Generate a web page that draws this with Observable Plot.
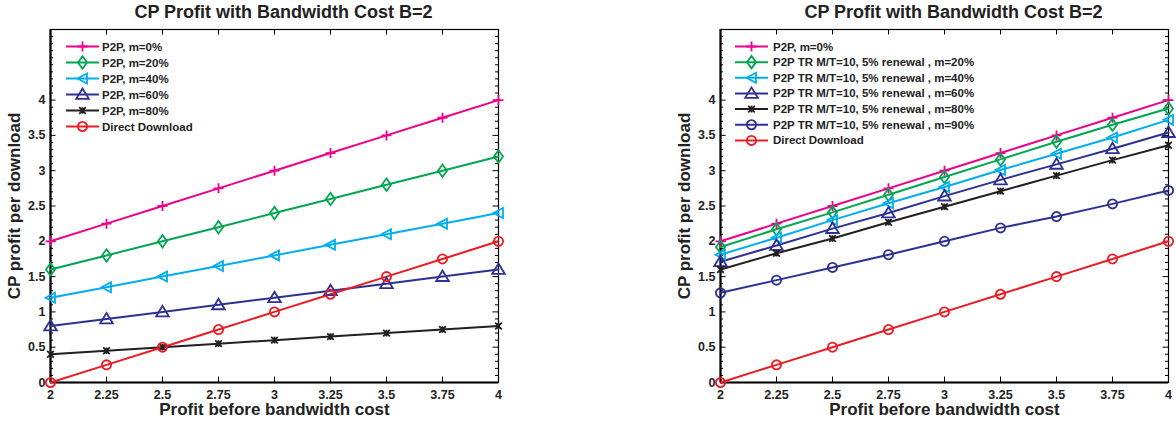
<!DOCTYPE html>
<html><head><meta charset="utf-8">
<script src="https://cdn.jsdelivr.net/npm/d3@7"></script>
<script src="https://cdn.jsdelivr.net/npm/@observablehq/plot@0.6"></script>
<style>
html,body{margin:0;padding:0;background:#fff;}
#wrap{position:relative;width:1176px;height:427px;overflow:hidden;background:#fff;}
#wrap svg{position:absolute;top:0;}
</style></head><body><div id="wrap"></div>
<script>
// ---- data ----
const xs = [2, 2.25, 2.5, 2.75, 3, 3.25, 3.5, 3.75, 4];
const xTicks = [2, 2.25, 2.5, 2.75, 3, 3.25, 3.5, 3.75, 4];
const yTicks = [0, 0.5, 1, 1.5, 2, 2.5, 3, 3.5, 4];
const titleText = "CP Profit with Bandwidth Cost B=2";
const xLabelText = "Profit before bandwidth cost";
const yLabelText = "CP profit per download";

const p2p0   = [2, 2.25, 2.5, 2.75, 3, 3.25, 3.5, 3.75, 4];
const p2p20  = [1.6, 1.8, 2.0, 2.2, 2.4, 2.6, 2.8, 3.0, 3.2];
const p2p40  = [1.2, 1.35, 1.5, 1.65, 1.8, 1.95, 2.1, 2.25, 2.4];
const p2p60  = [0.8, 0.9, 1.0, 1.1, 1.2, 1.3, 1.4, 1.5, 1.6];
const p2p80  = [0.4, 0.45, 0.5, 0.55, 0.6, 0.65, 0.7, 0.75, 0.8];
const direct = [0, 0.25, 0.5, 0.75, 1, 1.25, 1.5, 1.75, 2];
const tr20 = [1.92, 2.17, 2.41, 2.66, 2.91, 3.16, 3.41, 3.65, 3.88];
const tr40 = [1.81, 2.05, 2.30, 2.54, 2.77, 3.01, 3.24, 3.47, 3.72];
const tr60 = [1.71, 1.94, 2.18, 2.40, 2.64, 2.87, 3.09, 3.31, 3.54];
const tr80 = [1.60, 1.83, 2.04, 2.27, 2.49, 2.71, 2.93, 3.15, 3.36];
const tr90 = [1.27, 1.45, 1.63, 1.81, 2.00, 2.19, 2.35, 2.53, 2.72];

const leftLabels = ["P2P, m=0%", "P2P, m=20%", "P2P, m=40%", "P2P, m=60%", "P2P, m=80%", "Direct Download"];
const rightLabels = ["P2P, m=0%", "P2P TR M/T=10, 5% renewal , m=20%", "P2P TR M/T=10, 5% renewal , m=40%",
  "P2P TR M/T=10, 5% renewal , m=60%", "P2P TR M/T=10, 5% renewal , m=80%", "P2P TR M/T=10, 5% renewal , m=90%", "Direct Download"];

// ---- styles ----
const C = {mag: "#ec008c", green: "#00a651", cyan: "#00aeef", navy: "#2e3192", black: "#231f20", red: "#ed1c24"};
const rOf = s => Math.sqrt(s / Math.PI);
const SYM = {
  plus: {draw(c, s) {const r = rOf(s); c.moveTo(-r, 0); c.lineTo(r, 0); c.moveTo(0, -r); c.lineTo(0, r);}},
  diamond: {draw(c, s) {const r = rOf(s); c.moveTo(0, -r * 1.25); c.lineTo(r * 0.9, 0); c.lineTo(0, r * 1.25); c.lineTo(-r * 0.9, 0); c.closePath();}},
  left: {draw(c, s) {const r = rOf(s); c.moveTo(-r, 0); c.lineTo(r * 0.9, -r); c.lineTo(r * 0.9, r); c.closePath();}},
  up: {draw(c, s) {const r = rOf(s); c.moveTo(0, -r * 1.1); c.lineTo(r * 1.15, r * 0.8); c.lineTo(-r * 1.15, r * 0.8); c.closePath();}},
  star: {draw(c, s) {const r = rOf(s); c.moveTo(-r, -r); c.lineTo(r, r); c.moveTo(-r, r); c.lineTo(r, -r); c.moveTo(0, -r); c.lineTo(0, r);}},
  circle: {draw(c, s) {const r = rOf(s); c.moveTo(r, 0); c.arc(0, 0, r, 0, 2 * Math.PI);}}
};

const leftSeries = [
  {label: leftLabels[0], values: p2p0, color: C.mag, sym: SYM.plus, r: 5},
  {label: leftLabels[1], values: p2p20, color: C.green, sym: SYM.diamond, r: 5},
  {label: leftLabels[2], values: p2p40, color: C.cyan, sym: SYM.left, r: 5},
  {label: leftLabels[3], values: p2p60, color: C.navy, sym: SYM.up, r: 5.5},
  {label: leftLabels[4], values: p2p80, color: C.black, sym: SYM.star, r: 3.3},
  {label: leftLabels[5], values: direct, color: C.red, sym: SYM.circle, r: 4.6}
];
const rightSeries = [
  {label: rightLabels[0], values: p2p0, color: C.mag, sym: SYM.plus, r: 5},
  {label: rightLabels[1], values: tr20, color: C.green, sym: SYM.diamond, r: 5},
  {label: rightLabels[2], values: tr40, color: C.cyan, sym: SYM.left, r: 5},
  {label: rightLabels[3], values: tr60, color: C.navy, sym: SYM.up, r: 5.5},
  {label: rightLabels[4], values: tr80, color: C.black, sym: SYM.star, r: 3.3},
  {label: rightLabels[5], values: tr90, color: C.navy, sym: SYM.circle, r: 4.6},
  {label: rightLabels[6], values: direct, color: C.red, sym: SYM.circle, r: 4.6}
];

const FONT = "'Liberation Sans', Arial, Helvetica, sans-serif";
const W = 588, H = 427, MT = 29, MB = 45;

function panel(series, {left, marginLeft, marginRight, leg}) {
  const fw = W - marginLeft - marginRight, fh = H - MT - MB;
  const yMinor = d3.range(0, 51).map(i => i / 10).filter(v => Math.abs(v * 2 - Math.round(v * 2)) > 1e-6 || v > 4.01);
  const yMajor = yTicks;
  const marks = [
    Plot.tickY(yMajor, {y: d => d, insetRight: fw - 5.5, stroke: "black", strokeWidth: 1}),
    Plot.tickY(yMajor, {y: d => d, insetLeft: fw - 5.5, stroke: "black", strokeWidth: 1}),
    Plot.tickY(yMinor, {y: d => d, insetRight: fw - 3, stroke: "black", strokeWidth: 1}),
    Plot.tickY(yMinor, {y: d => d, insetLeft: fw - 3, stroke: "black", strokeWidth: 1}),
    Plot.tickX(xTicks, {x: d => d, insetTop: fh - 5.5, stroke: "black", strokeWidth: 1}),
    Plot.tickX(xTicks, {x: d => d, insetBottom: fh - 5.5, stroke: "black", strokeWidth: 1}),
    Plot.frame({stroke: "black", strokeWidth: 1.2}),
    Plot.ruleX([2], {stroke: "black", strokeWidth: 2.2}),
    Plot.ruleY([0], {stroke: "black", strokeWidth: 2.2}),
    Plot.axisX(xTicks, {tickSize: 0, tickPadding: 7.5, tickFormat: d => String(d), label: null, fontSize: 12.5, fontWeight: "bold"}),
    Plot.axisY(yTicks, {tickSize: 0, tickPadding: 5, tickFormat: d => String(d), label: null, fontSize: 12.5, fontWeight: "bold"}),
    ...series.map(s => Plot.line(s.values, {x: (d, i) => xs[i], y: d => d, stroke: s.color, strokeWidth: 2})),
    ...series.map(s => Plot.dot(s.values, {x: (d, i) => xs[i], y: d => d, stroke: s.color, fill: "none", strokeWidth: 1.8, symbol: s.sym, r: s.r})),
    Plot.text([titleText], {frameAnchor: "top", lineAnchor: "middle", textAnchor: "middle", dy: -17.5, dx: 9, fontSize: 18, fontWeight: "bold", fill: "#222"}),
    Plot.text([xLabelText], {frameAnchor: "bottom", lineAnchor: "middle", textAnchor: "middle", dy: 27.5, fontSize: 17, fontWeight: "bold", fill: "#222"}),
    Plot.text([yLabelText], {frameAnchor: "left", lineAnchor: "middle", textAnchor: "middle", dx: -35.5, rotate: -90, fontSize: 17, fontWeight: "bold", fill: "#222"})
  ];
  const svg = Plot.plot({
    width: W, height: H, marginTop: MT, marginBottom: MB, marginLeft, marginRight,
    x: {domain: [2, 4]}, y: {domain: [0, 5]},
    style: {fontFamily: FONT, fontSize: "13px", fontWeight: "bold", color: "#222", background: "transparent", overflow: "visible"},
    marks
  });
  svg.style.left = left + "px";
  // legend (inside axes, no box)
  const g = d3.select(svg).append("g").attr("font-family", FONT).attr("font-size", "11.5px")
    .attr("font-weight", "bold").attr("text-anchor", "start");
  series.forEach((s, i) => {
    const y = leg.y0 + i * leg.step;
    g.append("line").attr("x1", leg.x1 - left).attr("x2", leg.x2 - left).attr("y1", y).attr("y2", y)
      .attr("stroke", s.color).attr("stroke-width", 2);
    g.append("path").attr("d", d3.symbol(s.sym, s.r * s.r * Math.PI)())
      .attr("transform", `translate(${(leg.x1 + leg.x2) / 2 - left},${y})`)
      .attr("fill", "none").attr("stroke", s.color).attr("stroke-width", 1.8);
    g.append("text").attr("x", leg.tx - left).attr("y", y).attr("dy", "0.35em").attr("fill", "#222")
      .attr("text-anchor", "start").text(s.label);
  });
  return svg;
}

const wrap = document.getElementById("wrap");
wrap.appendChild(panel(leftSeries, {left: 0, marginLeft: 50, marginRight: 90, leg: {x1: 66, x2: 99, tx: 102, y0: 46.5, step: 16}}));
wrap.appendChild(panel(rightSeries, {left: 588, marginLeft: 132, marginRight: 8, leg: {x1: 735, x2: 768, tx: 773, y0: 46.5, step: 15.65}}));
</script></body></html>
